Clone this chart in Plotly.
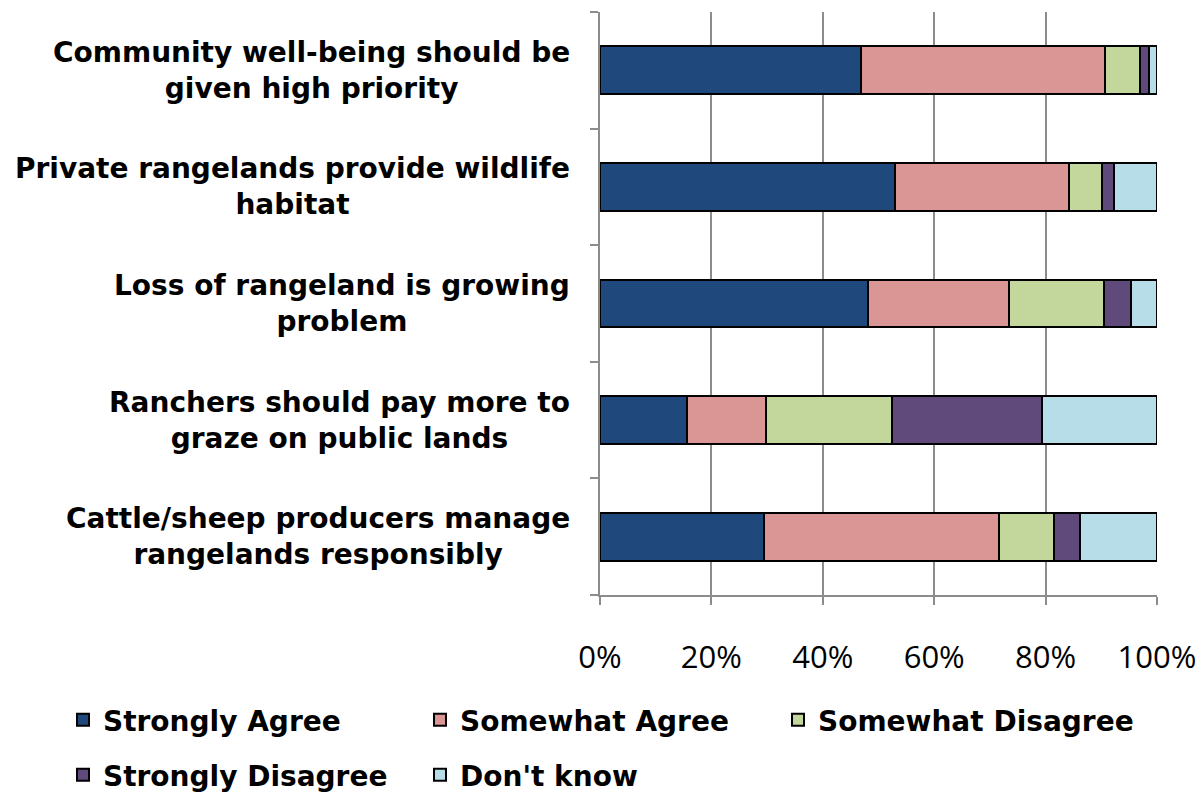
import plotly.graph_objects as go

# Survey statements (top to bottom) and response shares in percent
statements = [
    "Community well-being should be<br>given high priority",
    "Private rangelands provide wildlife<br>habitat",
    "Loss of rangeland is growing<br>problem",
    "Ranchers should pay more to<br>graze on public lands",
    "Cattle/sheep producers manage<br>rangelands responsibly",
]
strongly_agree = [46.9, 53.0, 48.2, 15.6, 29.5]
somewhat_agree = [43.8, 31.2, 25.3, 14.2, 42.2]
somewhat_disagree = [6.3, 6.0, 17.0, 22.6, 9.8]
strongly_disagree = [1.6, 2.1, 4.9, 26.9, 4.7]
dont_know = [1.4, 7.7, 4.6, 20.7, 13.8]

series = [
    ("Strongly Agree", strongly_agree, "#1F497D"),
    ("Somewhat Agree", somewhat_agree, "#D99694"),
    ("Somewhat Disagree", somewhat_disagree, "#C3D69B"),
    ("Strongly Disagree", strongly_disagree, "#604A7B"),
    ("Don't know", dont_know, "#B7DEE8"),
]

x_ticks = [0, 20, 40, 60, 80, 100]
x_tick_labels = [f"{v}%" for v in x_ticks]

bold_font = dict(family="DejaVu Sans", size=28, color="#000000", weight="bold")

# One legend box per entry, laid out as a 3 + 2 grid under the chart
legend_ids = ["legend", "legend2", "legend3", "legend4", "legend5"]
legend_pos = [(63, 720), (420, 720), (778, 720), (63, 775), (420, 775)]

fig = go.Figure()
for (name, vals, color), lid in zip(series, legend_ids):
    fig.add_trace(go.Bar(
        y=statements, x=vals, name=name, orientation="h",
        marker=dict(color=color, line=dict(color="#000000", width=2)),
        legend=lid, showlegend=True,
    ))

# Statement labels: centred lines, block right-aligned next to the axis
for s in statements:
    fig.add_annotation(
        x=0, xref="paper", y=s, yref="y", text=s, showarrow=False,
        xanchor="right", xshift=-28, align="center", font=bold_font,
    )

W, H = 1204, 792
legend_layout = {}
for lid, (lx, ly) in zip(legend_ids, legend_pos):
    legend_layout[lid] = dict(
        orientation="h", xref="container", yref="container",
        x=lx / W, y=1 - ly / H, xanchor="left", yanchor="middle",
        font=bold_font, itemwidth=30, bgcolor="rgba(0,0,0,0)",
    )

fig.update_layout(
    showlegend=True,
    barmode="stack",
    bargap=0.59,
    width=W, height=H,
    margin=dict(l=600, r=47, t=12, b=197, autoexpand=False),
    plot_bgcolor="white", paper_bgcolor="white",
    xaxis=dict(
        range=[0, 100], tickvals=x_ticks, ticktext=x_tick_labels,
        showgrid=True, gridcolor="#8c8c8c", gridwidth=1.5,
        showline=True, linecolor="#8c8c8c", linewidth=1.5,
        ticks="outside", ticklen=8, tickcolor="#8c8c8c", tickwidth=1.5,
        ticklabelstandoff=26, automargin=False,
        tickfont=dict(family="Open Sans", size=31, color="#000000"),
        zeroline=False,
    ),
    yaxis=dict(
        categoryorder="array", categoryarray=statements[::-1],
        showticklabels=False, automargin=False,
        showline=True, linecolor="#8c8c8c", linewidth=1.5,
        ticks="outside", ticklen=8, tickcolor="#8c8c8c", tickwidth=1.5,
        tickson="boundaries", showgrid=False,
    ),
    **legend_layout,
)

fig.write_html("out.html")
